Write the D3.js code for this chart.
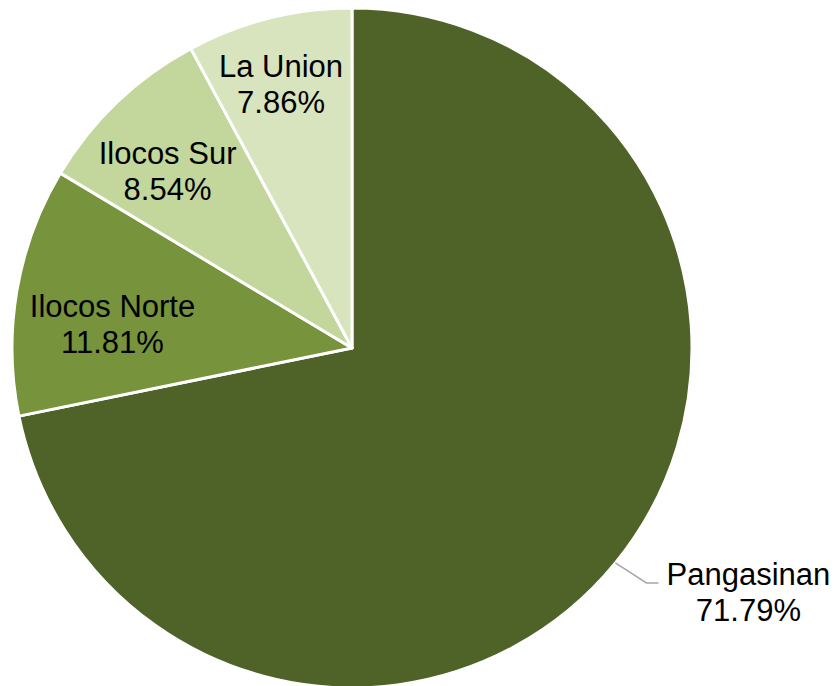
<!DOCTYPE html>
<html>
<head>
<meta charset="utf-8">
<script src="https://cdn.jsdelivr.net/npm/d3@7"></script>
<style>
  body { margin: 0; background: #fff; }
  text { font-family: "Liberation Sans", Arial, sans-serif; }
</style>
</head>
<body>
<div id="pie"></div>
<script>
// Data
const provinces = ["Pangasinan", "Ilocos Norte", "Ilocos Sur", "La Union"];
const shares = [71.79, 11.81, 8.54, 7.86];
const colors = ["#4F6228", "#77933C", "#C3D69B", "#D7E4BD"];

// Dimensions
const width = 840,
    height = 686,
    cx = 352,
    cy = 348,
    radius = 340;

// label placement (angle shift in degrees, radius fraction), inside labels only
const labelNudge = [null, [-4, 0.708], [-2.5, 0.752], [-0.9, 0.804]];

const svg = d3.select("#pie")
    .append("svg")
    .attr("width", width)
    .attr("height", height)
    .append("g")
    .attr("transform", `translate(${cx}, ${cy})`);

const data = provinces.map((p, i) => ({ name: p, value: shares[i], color: colors[i] }));

const pie = d3.pie()
    .value(d => d.value)
    .sort(null);

const arc = d3.arc()
    .innerRadius(0)
    .outerRadius(radius);

const arcs = pie(data);

svg.selectAll("path.slice")
    .data(arcs)
    .join("path")
    .attr("class", "slice")
    .attr("d", arc)
    .attr("fill", d => d.data.color)
    .attr("stroke", "#fff")
    .attr("stroke-width", 3)
    .attr("stroke-linejoin", "round");

const fontSize = 31;

arcs.forEach((d, i) => {
    const mid = (d.startAngle + d.endAngle) / 2;
    let x, y;
    if (labelNudge[i]) {
        const a = mid + labelNudge[i][0] * Math.PI / 180;
        const r = radius * labelNudge[i][1];
        x = r * Math.sin(a);
        y = -r * Math.cos(a);
    } else {
        // outside label with leader line
        const ex = radius * Math.sin(mid),
            ey = -radius * Math.cos(mid);
        const bx = ex + 31, by = ey + 20;
        svg.append("polyline")
            .attr("points", [[ex, ey], [bx, by], [bx + 12, by]].map(p => p.join(",")).join(" "))
            .attr("fill", "none")
            .attr("stroke", "#A6A6A6")
            .attr("stroke-width", 1.5);
        x = bx + 12 + 8 + 82;
        y = by + 9;
    }
    const t = svg.append("text")
        .attr("text-anchor", "middle")
        .attr("font-size", fontSize)
        .attr("fill", "#000");
    t.append("tspan")
        .attr("x", x)
        .attr("y", y - 7)
        .text(d.data.name);
    t.append("tspan")
        .attr("x", x)
        .attr("y", y + 29)
        .text(d.data.value.toFixed(2) + "%");
});
</script>
</body>
</html>
